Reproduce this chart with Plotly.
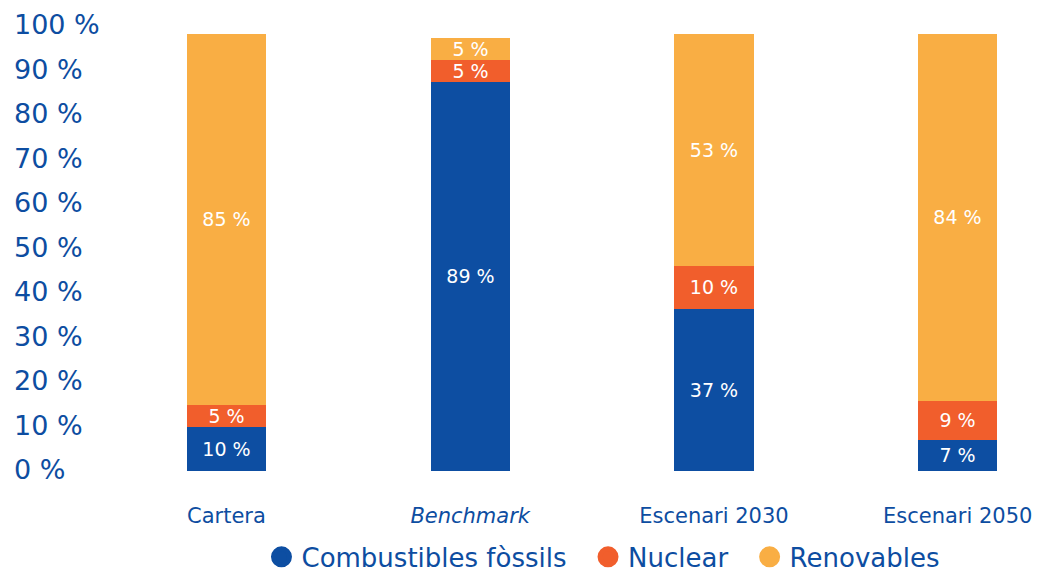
import plotly.graph_objects as go

# Shares of the energy mix (%)
categories = ["Cartera", "<i>Benchmark</i>", "Escenari 2030", "Escenari 2050"]
fossils = [10, 89, 37, 7]
nuclear = [5, 5, 10, 9]
renewables = [85, 5, 53, 84]
series_names = ["Combustibles fòssils", "Nuclear", "Renovables"]
y_ticks = list(range(0, 101, 10))
y_tick_labels = [f"{v} %" for v in y_ticks]

BLUE = "#0D4EA2"
ORANGE = "#F15E2C"
AMBER = "#F9AE44"
TEXT = "#0D4DA1"
FONT = "DejaVu Sans"
GAP = "\u00a0\u00a0"  # extra room between legend entries

fig = go.Figure()
series = list(zip(series_names, [fossils, nuclear, renewables], [BLUE, ORANGE, AMBER]))
for i, (name, vals, col) in enumerate(series):
    fig.add_trace(go.Bar(
        x=categories, y=vals, name=name, marker=dict(color=col, line=dict(width=0)),
        text=[f"{v} %" for v in vals], textposition="inside", insidetextanchor="middle",
        textfont=dict(color="white", size=19, family=FONT), textangle=0,
        showlegend=False, width=0.325, hoverinfo="skip",
    ))
    # round legend swatch
    fig.add_trace(go.Scatter(
        x=[None], y=[None], mode="markers",
        name=name + (GAP if i < len(series) - 1 else ""),
        marker=dict(color=col, size=16, line=dict(color=col, width=5)),
    ))

# invisible trace carrying the percentage scale on the left
fig.add_trace(go.Scatter(x=[None], y=[None], yaxis="y2", showlegend=False, hoverinfo="skip"))

fig.update_layout(
    width=1043, height=577,
    margin=dict(l=0, r=0, t=0, b=0, autoexpand=False),
    paper_bgcolor="white", plot_bgcolor="rgba(0,0,0,0)",
    barmode="stack", bargap=0,
    uniformtext=dict(minsize=19, mode="show"),
    font=dict(family=FONT, color=TEXT),
    xaxis=dict(
        type="category", range=[-0.929, 3.35], showgrid=False, zeroline=False,
        showline=False, ticks="outside", ticklen=26, tickcolor="rgba(0,0,0,0)",
        tickfont=dict(size=21, color=TEXT, family=FONT),
    ),
    yaxis=dict(
        domain=[0.1837, 0.9411], range=[0, 100], showgrid=False, zeroline=False,
        showticklabels=False, showline=False,
    ),
    yaxis2=dict(
        domain=[0.1854, 0.9575], range=[0, 100], anchor="free", position=0,
        side="right", showgrid=False, zeroline=False, showline=False,
        tickvals=y_ticks, ticktext=y_tick_labels, ticks="",
        ticklabelstandoff=13,
        tickfont=dict(size=27, color=TEXT, family=FONT),
    ),
    legend=dict(
        orientation="h", traceorder="normal", x=0.5786, xanchor="center",
        y=-0.006, yanchor="bottom",
        font=dict(size=26, color=TEXT, family=FONT), itemwidth=30,
        bgcolor="rgba(0,0,0,0)",
    ),
)

fig.write_html("out.html")
